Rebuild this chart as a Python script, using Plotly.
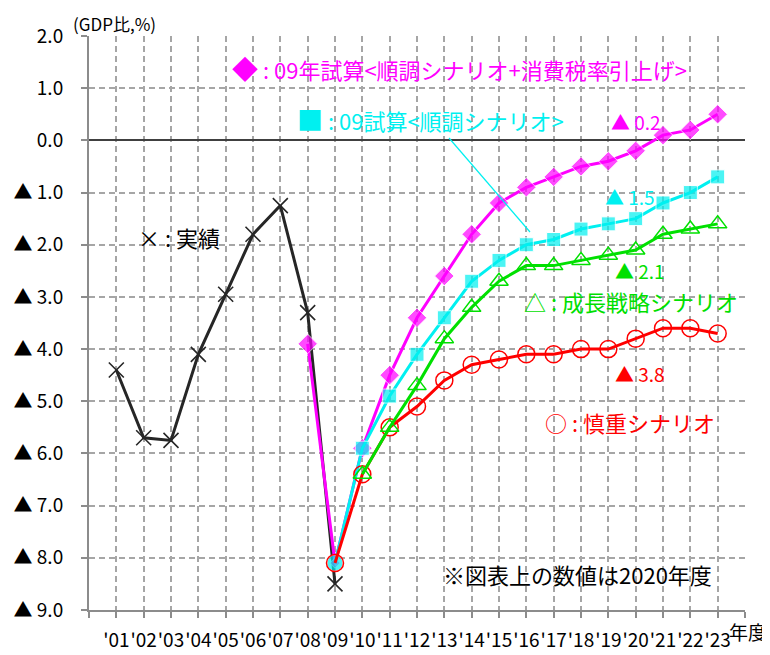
import plotly.graph_objects as go

years = ["'01","'02","'03","'04","'05","'06","'07","'08","'09","'10","'11","'12",
         "'13","'14","'15","'16","'17","'18","'19","'20","'21","'22","'23"]
xpos = list(range(1, 24))

actual = [-4.4, -5.7, -5.75, -4.1, -2.95, -1.8, -1.25, -3.3, -8.5]
tax_up = [-3.9, -8.1, -5.9, -4.5, -3.4, -2.6, -1.8, -1.2, -0.9, -0.7, -0.5, -0.4,
          -0.2, 0.1, 0.2, 0.5]
smooth = [-8.1, -5.9, -4.9, -4.1, -3.4, -2.7, -2.3, -2.0, -1.9, -1.7, -1.6, -1.5,
          -1.2, -1.0, -0.7]
growth = [-6.4, -5.5, -4.7, -3.8, -3.2, -2.7, -2.4, -2.4, -2.3, -2.2, -2.1,
          -1.8, -1.7, -1.6]
cautious = [-8.1, -6.4, -5.5, -5.1, -4.6, -4.3, -4.2, -4.1, -4.1, -4.0, -4.0, -3.8,
            -3.6, -3.6, -3.7]

ytickvals = [2, 1, 0, -1, -2, -3, -4, -5, -6, -7, -8, -9]
yticktext = ["2.0", "1.0", "0.0", "▲ 1.0", "▲ 2.0", "▲ 3.0", "▲ 4.0", "▲ 5.0",
             "▲ 6.0", "▲ 7.0", "▲ 8.0", "▲ 9.0"]

MAG = "#FF00FF"
CYN = "#00F0F0"
GRN = "#00E000"
RED = "#FF0000"
BLK = "#262626"
FONT = "Noto Sans CJK JP"

fig = go.Figure()
fig.add_trace(go.Scatter(x=xpos[0:9], y=actual, mode="lines+markers",
                         line=dict(color=BLK, width=3),
                         marker=dict(symbol="x-thin", size=15,
                                     line=dict(color=BLK, width=1.6))))
fig.add_trace(go.Scatter(x=xpos[7:], y=tax_up, mode="lines+markers",
                         line=dict(color=MAG, width=3),
                         marker=dict(symbol="diamond", color=MAG,
                                     size=[15, 8] + [15] * (len(tax_up) - 2))))
fig.add_trace(go.Scatter(x=xpos[8:], y=smooth, mode="lines+markers",
                         line=dict(color=CYN, width=3),
                         marker=dict(symbol=["circle"] + ["square"] * (len(smooth) - 1),
                                     size=[16] + [14] * (len(smooth) - 1), color=CYN)))
fig.add_trace(go.Scatter(x=xpos[8:], y=cautious, mode="lines+markers",
                         line=dict(color=RED, width=3),
                         marker=dict(symbol="circle-open", size=17,
                                     line=dict(color=RED, width=1.5))))
fig.add_trace(go.Scatter(x=xpos[9:], y=growth, mode="lines+markers",
                         line=dict(color=GRN, width=3),
                         marker=dict(symbol="triangle-up-open", size=16,
                                     line=dict(color=GRN, width=1.5))))

# page body has an 8px default margin; figure is sized to fit the 770x655 window
OFF = 8
W, H = 770 - OFF, 655 - OFF
L, R, T, B = 89 - OFF, 25, 36 - OFF, 45
pw, ph = W - L - R, H - T - B


def px(x):
    return (x - OFF - L) / pw


def py(y):
    return (H - B - (y - OFF)) / ph


def note(text, x, y, color, size=22, xanchor="left"):
    fig.add_annotation(text=text, x=px(x), y=py(y), xref="paper", yref="paper",
                       xanchor=xanchor, yanchor="middle", showarrow=False,
                       font=dict(family=FONT, size=size, color=color))


note("<span style='font-size:26px'>◆</span> : 09年試算&lt;順調シナリオ+消費税率引上げ&gt;", 230, 68, MAG)
note("<span style='font-size:26px'>■</span> : 09試算&lt;順調シナリオ&gt;", 295, 118, CYN)
note("▲ 0.2", 609, 121, MAG, 19)
note("▲ 1.5", 603, 196, CYN, 19)
note("▲ 2.1", 613, 270, GRN, 19)
note("△ : 成長戦略シナリオ", 522, 301, GRN)
note("▲ 3.8", 613, 373, RED, 19)
note("○ : 慎重シナリオ", 543, 422, RED)
note("※図表上の数値は2020年度", 441, 574, "#000000")
note("× : 実績", 136, 237, "#000000")
note("(GDP比,%)", 71, 23, "#000000", 17)
note("年度", 769, 631, "#000000", 19, xanchor="right")

fig.add_shape(type="line", xref="paper", yref="paper",
              x0=px(449), y0=py(138), x1=px(530), y1=py(232),
              line=dict(color=CYN, width=1.2))

fig.update_layout(
    width=W, height=H,
    margin=dict(l=L, r=R, t=T, b=B, pad=0, autoexpand=False),
    paper_bgcolor="white", plot_bgcolor="white",
    showlegend=False,
    font=dict(family=FONT, color="#000000"),
)
fig.update_xaxes(range=[0, 24], tickvals=list(range(0, 25)),
                 ticktext=[""] + years + [""], automargin=False,
                 showgrid=True, gridcolor="#a6a6a6", gridwidth=1.5, griddash="6px,4px",
                 showline=True, linecolor="#8c8c8c", linewidth=2,
                 ticks="outside", ticklen=6, tickcolor="#8c8c8c", tickwidth=1.5,
                 tickfont=dict(family=FONT, size=19), ticklabelstandoff=6,
                 zeroline=False, tickangle=0)
fig.update_yaxes(range=[-9, 2], tickvals=ytickvals, ticktext=yticktext,
                 automargin=False,
                 showgrid=True, gridcolor="#a6a6a6", gridwidth=1.5, griddash="6px,4px",
                 showline=True, linecolor="#8c8c8c", linewidth=2,
                 ticks="outside", ticklen=6, tickcolor="#8c8c8c", tickwidth=1.5,
                 tickfont=dict(family=FONT, size=19), ticklabelstandoff=14,
                 zeroline=True, zerolinecolor="#404040", zerolinewidth=2)

fig.write_html("out.html")
